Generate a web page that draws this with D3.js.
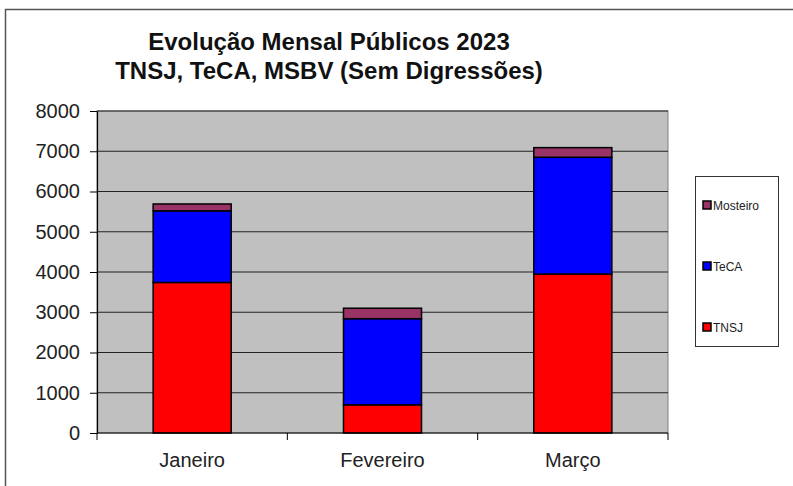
<!DOCTYPE html>
<html>
<head>
<meta charset="utf-8">
<script src="https://cdn.jsdelivr.net/npm/d3@7"></script>
<style>
body { margin: 0; background: #fff; }
svg text { font-family: "Liberation Sans", Arial, sans-serif; }
</style>
</head>
<body>
<svg id="chart" width="793" height="486"></svg>
<script>
const months = ["Janeiro", "Fevereiro", "Março"];
const series = ["TNSJ", "TeCA", "Mosteiro"];
const tnsj = [3740, 700, 3950];
const teca = [1780, 2140, 2900];
const mosteiro = [170, 260, 240];
const yTicks = [0, 1000, 2000, 3000, 4000, 5000, 6000, 7000, 8000];
const colors = {"TNSJ": "#ff0000", "TeCA": "#0000ff", "Mosteiro": "#993366"};

const rows = months.map((m, i) => ({month: m, TNSJ: tnsj[i], TeCA: teca[i], Mosteiro: mosteiro[i]}));
const stacked = d3.stack().keys(series)(rows);

const svg = d3.select("#chart");
const plot = {left: 97, right: 668, top: 111, bottom: 433};

// outer frame
svg.append("rect")
    .attr("x", 5.5).attr("y", 9.5)
    .attr("width", 800).attr("height", 500)
    .attr("fill", "none").attr("stroke", "#555").attr("stroke-width", 1.5);

const x = d3.scaleBand().domain(months).range([plot.left, plot.right]).paddingInner(0.59).paddingOuter(0.295);
const xb = d3.scaleBand().domain(months).range([plot.left, plot.right]);
const y = d3.scaleLinear().domain([0, 8000]).range([plot.bottom, plot.top]);

// plot area
svg.append("rect")
    .attr("x", plot.left).attr("y", plot.top)
    .attr("width", plot.right - plot.left).attr("height", plot.bottom - plot.top)
    .attr("fill", "#c0c0c0").attr("stroke", "#808080").attr("stroke-width", 1);

// grid lines
svg.append("g").selectAll("line")
    .data(yTicks.filter(d => d > 0))
    .join("line")
    .attr("x1", plot.left).attr("x2", plot.right)
    .attr("y1", d => y(d)).attr("y2", d => y(d))
    .attr("stroke", "#222").attr("stroke-width", 1);

// bars
svg.append("g").selectAll("g")
    .data(stacked)
    .join("g")
    .attr("fill", d => colors[d.key])
    .selectAll("rect")
    .data(d => d)
    .join("rect")
    .attr("x", d => x(d.data.month))
    .attr("width", x.bandwidth())
    .attr("y", d => y(d[1]))
    .attr("height", d => y(d[0]) - y(d[1]))
    .attr("stroke", "#000").attr("stroke-width", 1.5);

// y axis
const yAxis = svg.append("g")
    .attr("transform", `translate(${plot.left},0)`)
    .call(d3.axisLeft(y).tickValues(yTicks).tickFormat(d3.format("d")).tickSize(7).tickPadding(10).tickSizeOuter(0));
yAxis.select(".domain").attr("stroke", "#000").attr("stroke-width", 1.2);
yAxis.selectAll(".tick line").attr("stroke", "#000");
yAxis.selectAll("text").attr("font-size", 20).attr("fill", "#222");

// x axis with ticks at category boundaries
const xAxisG = svg.append("g").attr("transform", `translate(0,${plot.bottom})`);
xAxisG.append("line")
    .attr("x1", plot.left).attr("x2", plot.right)
    .attr("stroke", "#000").attr("stroke-width", 1.2);
const bounds = months.map(m => xb(m)).concat([plot.right]);
xAxisG.selectAll(".bt")
    .data(bounds)
    .join("line")
    .attr("class", "bt")
    .attr("x1", d => d).attr("x2", d => d)
    .attr("y1", 0).attr("y2", 7)
    .attr("stroke", "#000");
xAxisG.selectAll(".lbl")
    .data(months)
    .join("text")
    .attr("class", "lbl")
    .attr("x", d => xb(d) + xb.bandwidth() / 2)
    .attr("y", 34)
    .attr("text-anchor", "middle")
    .attr("font-size", 20)
    .attr("fill", "#222")
    .text(d => d);

// title
const title = svg.append("text")
    .attr("text-anchor", "middle")
    .attr("font-weight", "bold")
    .attr("font-size", 24)
    .attr("fill", "#111");
title.append("tspan").attr("x", 329).attr("y", 50).text("Evolução Mensal Públicos 2023");
title.append("tspan").attr("x", 329).attr("y", 79).text("TNSJ, TeCA, MSBV (Sem Digressões)");

// legend
const legend = svg.append("g");
legend.append("rect")
    .attr("x", 695.5).attr("y", 176.5)
    .attr("width", 83).attr("height", 170)
    .attr("fill", "#fff").attr("stroke", "#333").attr("stroke-width", 1);
const legendItems = ["Mosteiro", "TeCA", "TNSJ"];
const ly = d3.scalePoint().domain(legendItems).range([205, 327]);
const li = legend.selectAll(".li")
    .data(legendItems)
    .join("g")
    .attr("class", "li")
    .attr("transform", d => `translate(703,${ly(d)})`);
li.append("rect")
    .attr("x", 0).attr("y", -4)
    .attr("width", 8).attr("height", 8)
    .attr("fill", d => colors[d]).attr("stroke", "#000").attr("stroke-width", 1.5);
li.append("text")
    .attr("x", 10).attr("y", 4.5)
    .attr("font-size", 12)
    .attr("fill", "#222")
    .text(d => d);
</script>
</body>
</html>
